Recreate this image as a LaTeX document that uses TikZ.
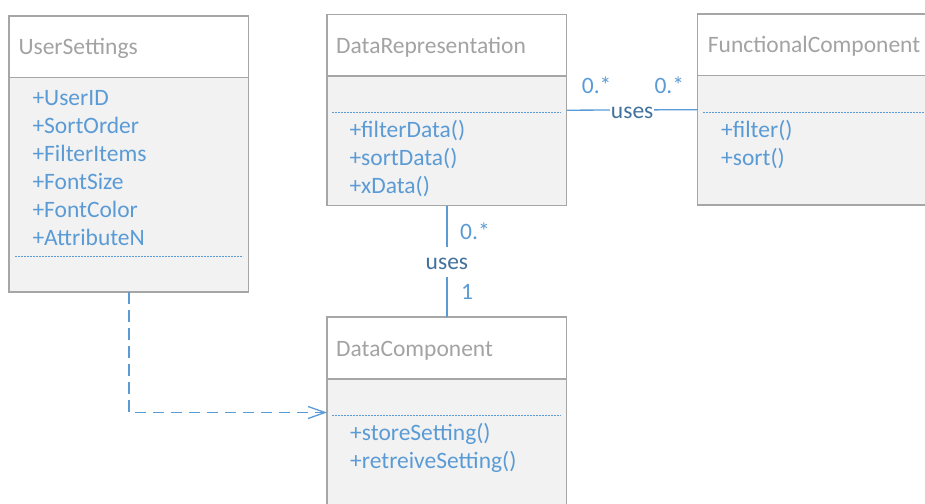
\documentclass[tikz,border=0pt]{standalone}
\usepackage{fontspec}
\setmainfont{Carlito}
\usetikzlibrary{arrows.meta}
\definecolor{boxgray}{HTML}{A6A6A6}
\definecolor{bodyfill}{HTML}{F2F2F2}
\definecolor{titlegray}{HTML}{A3A3A3}
\definecolor{memblue}{HTML}{5B9BD5}
\definecolor{usesblue}{HTML}{41719C}
\newcommand{\umlfont}{\fontsize{23.5}{28}\selectfont}
\tikzset{
  frame/.style={rectangle, anchor=north west, inner sep=0pt, draw=none},
  hdr/.style={draw=boxgray, line width=1.5pt, fill=white},
  bodypart/.style={draw=boxgray, line width=1.5pt, fill=bodyfill},
  sepline/.style={draw=memblue, line width=1pt, dash pattern=on 2pt off 1pt},
  ttl/.style={anchor=base west, inner sep=0pt, text=titlegray, font=\umlfont},
  mem/.style={anchor=base west, inner sep=0pt, text=memblue, font=\umlfont},
  mult/.style={anchor=base west, inner sep=0pt, text=memblue, font=\umlfont},
  assoc/.style={draw=memblue, line width=1.3pt},
  ulabel/.style={anchor=base, fill=white, text=usesblue, font=\umlfont, inner xsep=0.5pt, inner ysep=6.6pt, text height=16pt, text depth=0.8pt},
  dep/.style={draw=memblue, line width=1.3pt, dash pattern=on 11.5pt off 6.5pt, -{Straight Barb[length=17pt,width=12pt]}}
}
\begin{document}
\begin{tikzpicture}[x=1pt,y=-1pt]
\path[use as bounding box] (0,0) rectangle (925,503);
\clip (0,0) rectangle (925,503);
% UserSettings
\node[frame, minimum width=239.5pt, minimum height=276pt] (us) at (9,16) {};
\draw[hdr] (9,16) rectangle (248.5,77.5);
\draw[bodypart] (9,77.5) rectangle (248.5,292);
\draw[sepline] (15,256) -- (243,256);
\node[ttl] (usT) at (18.3,54.3) {UserSettings};
\node[mem] (us1) at (32.3,105) {+UserID};
\node[mem] (us2) at (32.3,133) {+SortOrder};
\node[mem] (us3) at (32.3,161) {+FilterItems};
\node[mem] (us4) at (32.3,189) {+FontSize};
\node[mem] (us5) at (32.3,217) {+FontColor};
\node[mem] (us6) at (32.3,245) {+AttributeN};
% DataRepresentation
\node[frame, minimum width=239.5pt, minimum height=191pt] (dr) at (327,14.5) {};
\draw[hdr] (327,14.5) rectangle (566.5,76);
\draw[bodypart] (327,76) rectangle (566.5,205.5);
\draw[sepline] (332,112.7) -- (560.7,112.7);
\node[ttl] (drT) at (336,53.3) {DataRepresentation};
\node[mem] (dr1) at (349.3,137) {+filterData()};
\node[mem] (dr2) at (349.3,165) {+sortData()};
\node[mem] (dr3) at (349.3,193) {+xData()};
% FunctionalComponent
\node[frame, minimum width=242.5pt, minimum height=191pt] (fc) at (697.5,14) {};
\draw[hdr] (697.5,14) rectangle (940,75.5);
\draw[bodypart] (697.5,75.5) rectangle (940,205);
\draw[sepline] (703,112.7) -- (930,112.7);
\node[ttl] (fcT) at (707.7,52.3) {FunctionalComponent};
\node[mem] (fc1) at (721,137) {+filter()};
\node[mem] (fc2) at (721,165) {+sort()};
% DataComponent
\node[frame, minimum width=239.5pt, minimum height=190.6pt] (dc) at (327,317) {};
\draw[hdr] (327,317) rectangle (566.5,379);
\draw[bodypart] (327,379) rectangle (566.5,515);
\draw[sepline] (332,415) -- (560.7,415);
\node[ttl] (dcT) at (336,356) {DataComponent};
\node[mem] (dc1) at (350,440) {+storeSetting()};
\node[mem] (dc2) at (350,468) {+retreiveSetting()};
% associations
\draw[assoc] (dr.east) -- node[ulabel, yshift=-8.5pt] (u1) {uses} (fc.west);
\draw[assoc] (dr.south) -- node[ulabel, yshift=-8pt] (u2) {uses} (dc.north);
\node[mult] (m1) at (581.7,93.3) {0.*};
\node[mult] (m2) at (654.3,93.3) {0.*};
\node[mult] (m3) at (460,239) {0.*};
\node[mult] (m4) at (461,299) {1};
% dependency
\draw[dep] (us.south) |- (dc.west);
\end{tikzpicture}
\end{document}
